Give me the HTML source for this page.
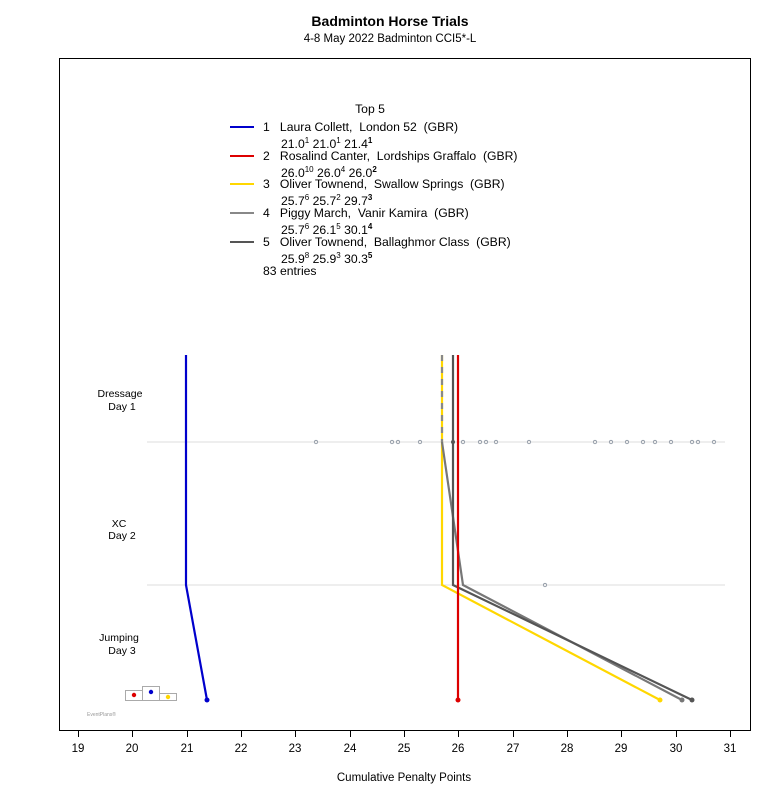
<!DOCTYPE html>
<html><head><meta charset="utf-8"><style>body{margin:0;background:#fff}svg{display:block;font-family:"Liberation Sans",sans-serif}text{white-space:pre}</style></head><body>
<svg width="780" height="800" viewBox="0 0 780 800" xml:space="preserve">
<text x="390" y="26" text-anchor="middle" font-size="14" font-weight="bold">Badminton Horse Trials</text>
<text x="390" y="42" text-anchor="middle" font-size="11.5">4-8 May 2022 Badminton CCI5*-L</text>
<rect x="59.5" y="58.5" width="691" height="672" fill="none" stroke="#000"/>
<g font-size="12.2">
<text x="370" y="113" text-anchor="middle">Top 5</text>
<line x1="230" x2="254" y1="127" y2="127" stroke="#0000cc" stroke-width="2"/>
<text x="263" y="131">1   Laura Collett,  London 52  (GBR)</text>
<text x="281" y="148">21.0<tspan font-size="8" dy="-5">1</tspan><tspan dy="5"> 21.0</tspan><tspan font-size="8" dy="-5">1</tspan><tspan dy="5"> 21.4</tspan><tspan font-size="8" dy="-5" font-weight="bold">1</tspan></text>
<line x1="230" x2="254" y1="156" y2="156" stroke="#dd0000" stroke-width="2"/>
<text x="263" y="160">2   Rosalind Canter,  Lordships Graffalo  (GBR)</text>
<text x="281" y="177">26.0<tspan font-size="8" dy="-5">10</tspan><tspan dy="5"> 26.0</tspan><tspan font-size="8" dy="-5">4</tspan><tspan dy="5"> 26.0</tspan><tspan font-size="8" dy="-5" font-weight="bold">2</tspan></text>
<line x1="230" x2="254" y1="184" y2="184" stroke="#ffd700" stroke-width="2"/>
<text x="263" y="188">3   Oliver Townend,  Swallow Springs  (GBR)</text>
<text x="281" y="205">25.7<tspan font-size="8" dy="-5">6</tspan><tspan dy="5"> 25.7</tspan><tspan font-size="8" dy="-5">2</tspan><tspan dy="5"> 29.7</tspan><tspan font-size="8" dy="-5" font-weight="bold">3</tspan></text>
<line x1="230" x2="254" y1="213" y2="213" stroke="#888" stroke-width="2"/>
<text x="263" y="217">4   Piggy March,  Vanir Kamira  (GBR)</text>
<text x="281" y="234">25.7<tspan font-size="8" dy="-5">6</tspan><tspan dy="5"> 26.1</tspan><tspan font-size="8" dy="-5">5</tspan><tspan dy="5"> 30.1</tspan><tspan font-size="8" dy="-5" font-weight="bold">4</tspan></text>
<line x1="230" x2="254" y1="242" y2="242" stroke="#555" stroke-width="2"/>
<text x="263" y="246">5   Oliver Townend,  Ballaghmor Class  (GBR)</text>
<text x="281" y="263">25.9<tspan font-size="8" dy="-5">8</tspan><tspan dy="5"> 25.9</tspan><tspan font-size="8" dy="-5">3</tspan><tspan dy="5"> 30.3</tspan><tspan font-size="8" dy="-5" font-weight="bold">5</tspan></text>
<text x="263" y="275">83 entries</text>
</g>
<g font-size="10.5" text-anchor="middle">
<text x="120" y="397">Dressage</text><text x="122" y="410">Day 1</text>
<text x="119" y="527">XC</text><text x="122" y="539">Day 2</text>
<text x="119" y="641">Jumping</text><text x="122" y="654">Day 3</text>
</g>
<line x1="147" x2="725" y1="442" y2="442" stroke="#ddd"/>
<line x1="147" x2="725" y1="585" y2="585" stroke="#ddd"/>
<g fill="none" stroke="#8a93a0" stroke-width="0.8">
<circle cx="316" cy="442" r="1.7"/><circle cx="392" cy="442" r="1.7"/><circle cx="398" cy="442" r="1.7"/><circle cx="420" cy="442" r="1.7"/><circle cx="463" cy="442" r="1.7"/><circle cx="480" cy="442" r="1.7"/><circle cx="486" cy="442" r="1.7"/><circle cx="496" cy="442" r="1.7"/><circle cx="529" cy="442" r="1.7"/><circle cx="595" cy="442" r="1.7"/><circle cx="611" cy="442" r="1.7"/><circle cx="627" cy="442" r="1.7"/><circle cx="643" cy="442" r="1.7"/><circle cx="655" cy="442" r="1.7"/><circle cx="671" cy="442" r="1.7"/><circle cx="692" cy="442" r="1.7"/><circle cx="698" cy="442" r="1.7"/><circle cx="714" cy="442" r="1.7"/><circle cx="545" cy="585" r="1.7"/>
</g>
<g fill="none" stroke-width="2.2">
<polyline points="442,355 442,585 660,700" stroke="#ffd700"/>
<polyline points="442,442 463,585 682,700" stroke="#777"/>
<line x1="442" y1="355" x2="442" y2="442" stroke="#888" stroke-dasharray="6,6"/>
<polyline points="453,355 453,585 692,700" stroke="#555"/>
<polyline points="458,355 458,700" stroke="#dd0000"/>
<polyline points="186,355 186,585 207,700" stroke="#0000cc"/>
</g>
<circle cx="453" cy="442" r="2" fill="#555"/>
<circle cx="207" cy="700" r="2.5" fill="#0000cc"/><circle cx="458" cy="700" r="2.5" fill="#dd0000"/><circle cx="660" cy="700" r="2.5" fill="#ffd700"/><circle cx="682" cy="700" r="2.5" fill="#777"/><circle cx="692" cy="700" r="2.5" fill="#555"/>
<g stroke="#aaa" fill="none"><rect x="125.5" y="690.5" width="17" height="10"/><rect x="142.5" y="686.5" width="17" height="14"/><rect x="159.5" y="693.5" width="17" height="7"/></g>
<circle cx="134" cy="695" r="2.2" fill="#dd0000"/><circle cx="151" cy="692" r="2.2" fill="#0000cc"/><circle cx="168" cy="697" r="2.2" fill="#ffd700"/>
<text x="87" y="716" font-size="5" fill="#999">EventPlans®</text>
<g stroke="#000"><line x1="78" x2="730" y1="730.5" y2="730.5"/>
<line x1="78.5" x2="78.5" y1="730" y2="737"/><line x1="132.5" x2="132.5" y1="730" y2="737"/><line x1="187.5" x2="187.5" y1="730" y2="737"/><line x1="241.5" x2="241.5" y1="730" y2="737"/><line x1="295.5" x2="295.5" y1="730" y2="737"/><line x1="350.5" x2="350.5" y1="730" y2="737"/><line x1="404.5" x2="404.5" y1="730" y2="737"/><line x1="458.5" x2="458.5" y1="730" y2="737"/><line x1="513.5" x2="513.5" y1="730" y2="737"/><line x1="567.5" x2="567.5" y1="730" y2="737"/><line x1="621.5" x2="621.5" y1="730" y2="737"/><line x1="676.5" x2="676.5" y1="730" y2="737"/><line x1="730.5" x2="730.5" y1="730" y2="737"/></g>
<g font-size="11.5" text-anchor="middle">
<text x="78" y="752">19</text><text x="132" y="752">20</text><text x="187" y="752">21</text><text x="241" y="752">22</text><text x="295" y="752">23</text><text x="350" y="752">24</text><text x="404" y="752">25</text><text x="458" y="752">26</text><text x="513" y="752">27</text><text x="567" y="752">28</text><text x="621" y="752">29</text><text x="676" y="752">30</text><text x="730" y="752">31</text>
<text x="404" y="781">Cumulative Penalty Points</text>
</g>
</svg>
</body></html>
